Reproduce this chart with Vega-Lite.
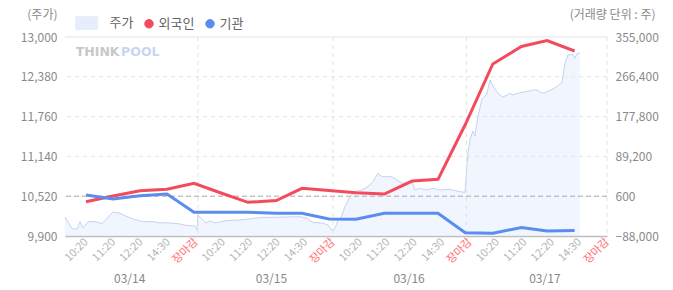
{
  "$schema": "https://vega.github.io/schema/vega-lite/v6.json",
  "width": 542,
  "height": 199,
  "autosize": {"type": "none"},
  "padding": {"left": 65, "top": 37, "right": 66, "bottom": 54},
  "background": "white",
  "config": {
    "font": "Noto Sans CJK KR",
    "view": {"stroke": null},
    "axis": {"labelFont": "Noto Sans CJK KR", "titleFont": "Noto Sans CJK KR", "titleFontWeight": "normal"},
    "legend": {"labelFont": "Noto Sans CJK KR"}
  },
  "datasets": {
    "price": [
      {"t":0.222,"p":10196},{"t":0.333,"p":10118},{"t":0.481,"p":10017},{"t":0.667,"p":10004},{"t":0.778,"p":10123},{"t":0.889,"p":10025},{"t":1.074,"p":10123},{"t":1.333,"p":10123},{"t":1.593,"p":10095},{"t":1.778,"p":10176},{"t":2.0,"p":10274},{"t":2.259,"p":10254},{"t":2.519,"p":10201},{"t":2.778,"p":10160},{"t":3.111,"p":10123},{"t":3.481,"p":10123},{"t":3.741,"p":10103},{"t":4.0,"p":10107},{"t":4.222,"p":10098},{"t":4.481,"p":10087},{"t":4.741,"p":10064},{"t":5.037,"p":10056},{"t":5.111,"p":9993},{"t":5.148,"p":10227},{"t":5.296,"p":10160},{"t":5.444,"p":10103},{"t":5.593,"p":10134},{"t":5.778,"p":10103},{"t":6.222,"p":10141},{"t":6.704,"p":10149},{"t":7.185,"p":10173},{"t":7.556,"p":10191},{"t":8.0,"p":10191},{"t":8.444,"p":10196},{"t":8.926,"p":10201},{"t":9.185,"p":10176},{"t":9.407,"p":10110},{"t":9.741,"p":10103},{"t":9.963,"p":10071},{"t":10.111,"p":9986},{"t":10.222,"p":10017},{"t":10.333,"p":10149},{"t":10.444,"p":10180},{"t":10.593,"p":10356},{"t":10.778,"p":10512},{"t":10.963,"p":10590},{"t":11.222,"p":10617},{"t":11.444,"p":10668},{"t":11.63,"p":10746},{"t":11.815,"p":10877},{"t":11.963,"p":10824},{"t":12.333,"p":10824},{"t":12.519,"p":10772},{"t":12.704,"p":10721},{"t":12.889,"p":10730},{"t":13.074,"p":10746},{"t":13.185,"p":10617},{"t":13.37,"p":10643},{"t":13.63,"p":10617},{"t":13.852,"p":10643},{"t":14.111,"p":10617},{"t":14.37,"p":10627},{"t":14.593,"p":10617},{"t":14.852,"p":10590},{"t":15.037,"p":10581},{"t":15.093,"p":10881},{"t":15.148,"p":11193},{"t":15.222,"p":11395},{"t":15.333,"p":11536},{"t":15.407,"p":11458},{"t":15.519,"p":11758},{"t":15.667,"p":12034},{"t":15.852,"p":12112},{"t":15.963,"p":12330},{"t":16.074,"p":12237},{"t":16.222,"p":12148},{"t":16.333,"p":12096},{"t":16.444,"p":12065},{"t":16.593,"p":12096},{"t":16.704,"p":12123},{"t":16.815,"p":12096},{"t":17.074,"p":12135},{"t":17.333,"p":12148},{"t":17.556,"p":12174},{"t":17.704,"p":12174},{"t":17.815,"p":12143},{"t":17.926,"p":12123},{"t":18.185,"p":12167},{"t":18.444,"p":12226},{"t":18.63,"p":12291},{"t":18.741,"p":12590},{"t":18.852,"p":12720},{"t":19.037,"p":12727},{"t":19.111,"p":12668},{"t":19.185,"p":12740},{"t":19.296,"p":12751}
    ],
    "inv": [
      {"series":"외국인","t":1,"v":-11600},{"series":"외국인","t":2,"v":1000},{"series":"외국인","t":3,"v":12800},{"series":"외국인","t":4,"v":16000},{"series":"외국인","t":5,"v":29300},{"series":"외국인","t":6,"v":7700},{"series":"외국인","t":7,"v":-13000},{"series":"외국인","t":8.05,"v":-9000},{"series":"외국인","t":9,"v":18200},{"series":"외국인","t":10,"v":13300},{"series":"외국인","t":11,"v":8400},{"series":"외국인","t":12.05,"v":5500},{"series":"외국인","t":13.08,"v":34400},{"series":"외국인","t":14.04,"v":38200},{"series":"외국인","t":15.05,"v":160200},{"series":"외국인","t":16.07,"v":294900},{"series":"외국인","t":17.13,"v":333800},{"series":"외국인","t":18.08,"v":347200},{"series":"외국인","t":19.1,"v":323800},
      {"series":"기관","t":1,"v":3300},{"series":"기관","t":2,"v":-5600},{"series":"기관","t":3,"v":1700},{"series":"기관","t":4,"v":5500},{"series":"기관","t":5,"v":-35200},{"series":"기관","t":6,"v":-35200},{"series":"기관","t":7,"v":-35200},{"series":"기관","t":8.05,"v":-37500},{"series":"기관","t":9,"v":-37500},{"series":"기관","t":10,"v":-50200},{"series":"기관","t":11,"v":-50800},{"series":"기관","t":12.05,"v":-37500},{"series":"기관","t":13.08,"v":-37500},{"series":"기관","t":14.04,"v":-37500},{"series":"기관","t":15.05,"v":-80700},{"series":"기관","t":16.07,"v":-82000},{"series":"기관","t":17.13,"v":-69100},{"series":"기관","t":18.08,"v":-76900},{"series":"기관","t":19.1,"v":-75800}
    ],
    "seps": [{"t":5.148},{"t":10.148},{"t":15.09},{"t":20.3}],
    "refs": [{"p":10520,"kind":"base"},{"p":13000,"kind":"top"},{"p":11140,"kind":"grid"},{"p":11760,"kind":"grid"},{"p":12380,"kind":"grid"}],
    "wm": [{"w":"THINK","t":0.62,"p":12766},{"w":"POOL","t":2.3,"p":12766}]
  },
  "resolve": {"scale": {"y": "independent"}, "axis": {"x": "independent", "y": "independent"}},
  "layer": [
    {
      "data": {"name": "refs"},
      "transform": [{"filter": "datum.kind==='grid'"}],
      "mark": {"type": "rule", "color": "#e3e3e3", "strokeDash": [4, 4]},
      "encoding": {
        "y": {"field": "p", "type": "quantitative", "scale": {"domain": [9900, 13000], "nice": false, "zero": false}, "axis": null}
      }
    },
    {
      "data": {"name": "refs"},
      "transform": [{"filter": "datum.kind==='top'"}],
      "mark": {"type": "rule", "color": "#e3e3e3"},
      "encoding": {
        "y": {"field": "p", "type": "quantitative", "scale": {"domain": [9900, 13000], "nice": false, "zero": false}, "axis": null}
      }
    },
    {
      "data": {"name": "price"},
      "mark": {"type": "area", "color": "#dfe9fc", "opacity": 0.45},
      "encoding": {
        "x": {"field": "t", "type": "quantitative",
          "scale": {"domain": [0.222, 20.3], "nice": false, "zero": false},
          "axis": {
            "values": [1, 2.016, 3.032, 4.047, 5.063, 6.079, 7.095, 8.111, 9.126, 10.142, 11.158, 12.174, 13.19, 14.205, 15.221, 16.237, 17.253, 18.269, 19.284, 20.3],
            "labelExpr": "['10:20','11:20','12:20','14:30','장마감'][(round((datum.value-1)/1.0158))%5]",
            "labelAngle": -45, "labelAlign": "right", "labelBaseline": "middle",
            "labelColor": {"condition": {"test": "round((datum.value-1)/1.0158)%5===4", "value": "#ff6e6e"}, "value": "#b5b5b5"},
            "labelFontSize": 11, "labelPadding": 4, "ticks": false, "grid": false,
            "domainColor": "#bdbdbd", "domainWidth": 1.5, "title": null,
            "labelOverlap": false, "labelFlush": false, "labelBound": false
          }
        },
        "y": {"field": "p", "type": "quantitative",
          "scale": {"domain": [9900, 13000], "nice": false, "zero": false},
          "axis": {
            "values": [9900, 10520, 11140, 11760, 12380, 13000], "format": ",.0f",
            "grid": false,
            "domain": false, "ticks": false, "labelOverlap": false,
            "labelColor": "#8a8a8a", "labelFontSize": 12, "labelPadding": 8,
            "title": "(주가)", "titleAngle": 0, "titleAlign": "right", "titleBaseline": "middle",
            "titleX": -8, "titleY": -23, "titleColor": "#8a8a8a", "titleFontSize": 12
          }
        },
        "y2": {"datum": 9900}
      }
    },
    {
      "data": {"name": "refs"},
      "transform": [{"filter": "datum.kind==='base'"}],
      "mark": {"type": "rule", "color": "#a8a8a8", "strokeDash": [5, 3]},
      "encoding": {
        "y": {"field": "p", "type": "quantitative", "scale": {"domain": [9900, 13000], "nice": false, "zero": false}, "axis": null}
      }
    },
    {
      "data": {"name": "price"},
      "mark": {"type": "line", "color": "#c5d3f0", "strokeWidth": 1},
      "encoding": {
        "x": {"field": "t", "type": "quantitative", "axis": null},
        "y": {"field": "p", "type": "quantitative", "scale": {"domain": [9900, 13000], "nice": false, "zero": false}, "axis": null}
      }
    },
    {
      "data": {"name": "seps"},
      "mark": {"type": "rule", "color": "#e0e0e0", "strokeDash": [4, 4]},
      "encoding": {"x": {"field": "t", "type": "quantitative", "axis": null}}
    },
    {
      "data": {"name": "wm"},
      "transform": [{"filter": "datum.w==='THINK'"}],
      "mark": {"type": "text", "align": "left", "baseline": "middle", "fontSize": 12.5, "fontWeight": "bold", "color": "#c8c8c8", "font": "DejaVu Sans"},
      "encoding": {
        "x": {"field": "t", "type": "quantitative", "axis": null},
        "y": {"field": "p", "type": "quantitative", "scale": {"domain": [9900, 13000], "nice": false, "zero": false}, "axis": null},
        "text": {"field": "w"}
      }
    },
    {
      "data": {"name": "wm"},
      "transform": [{"filter": "datum.w==='POOL'"}],
      "mark": {"type": "text", "align": "left", "baseline": "middle", "fontSize": 12.5, "fontWeight": "bold", "color": "#c9d6f2", "font": "DejaVu Sans"},
      "encoding": {
        "x": {"field": "t", "type": "quantitative", "axis": null},
        "y": {"field": "p", "type": "quantitative", "scale": {"domain": [9900, 13000], "nice": false, "zero": false}, "axis": null},
        "text": {"field": "w"}
      }
    },
    {
      "data": {"name": "inv"},
      "mark": {"type": "line", "strokeWidth": 3},
      "encoding": {
        "x": {"field": "t", "type": "quantitative",
          "axis": {
            "orient": "bottom", "values": [2.6, 7.85, 12.95, 17.98],
            "labelExpr": "datum.value<5?'03/14':datum.value<10?'03/15':datum.value<15?'03/16':'03/17'",
            "labelAngle": 0, "labelAlign": "center", "labelBaseline": "middle",
            "labelPadding": 42, "domain": false, "ticks": false, "grid": false, "title": null,
            "labelColor": "#888888", "labelFontSize": 12, "labelFlush": false, "labelOverlap": false
          }
        },
        "y": {"field": "v", "type": "quantitative",
          "scale": {"domain": [-88000, 355000], "nice": false, "zero": false},
          "axis": {
            "orient": "right", "values": [-88000, 600, 89200, 177800, 266400, 355000], "format": ",.0f",
            "grid": false, "domain": false, "ticks": false, "labelOverlap": false,
            "labelColor": "#8a8a8a", "labelFontSize": 12, "labelPadding": 8,
            "title": "(거래량 단위 : 주)", "titleAngle": 0, "titleAlign": "right", "titleBaseline": "middle",
            "titleX": 48, "titleY": -23, "titleColor": "#8a8a8a", "titleFontSize": 12
          }
        },
        "color": {"field": "series", "type": "nominal",
          "scale": {"domain": ["주가", "외국인", "기관"], "range": ["#e6eefb", "#f44a5d", "#5b8def"]},
          "legend": {
            "orient": "none", "legendX": 8.5, "legendY": -20.5, "direction": "horizontal", "title": null,
            "symbolSize": 72, "labelFontSize": 13, "labelColor": "#666666", "labelOffset": 3,
            "columnPadding": 9, "padding": 0,
            "labelExpr": "datum.label === '외국인' ? '외국인\u3000\u2009' : datum.label",
            "encode": {
              "symbols": {"update": {
                "shape": {"signal": "datum.value === '주가' ? 'M-1,-1.5H4.2V1.5H-1Z' : 'circle'"},
                "fill": {"signal": "datum.value === '주가' ? '#e6eefb' : datum.value === '외국인' ? '#f44a5d' : '#5b8def'"},
                "stroke": {"signal": "datum.value === '주가' ? '#c9d7f3' : 'transparent'"},
                "strokeWidth": {"value": 1},
                "opacity": {"value": 1}
              }},
              "labels": {"update": {
                "dx": {"signal": "datum.value === '주가' ? 20 : 0"}
              }}
            }
          }
        }
      }
    }
  ]
}
